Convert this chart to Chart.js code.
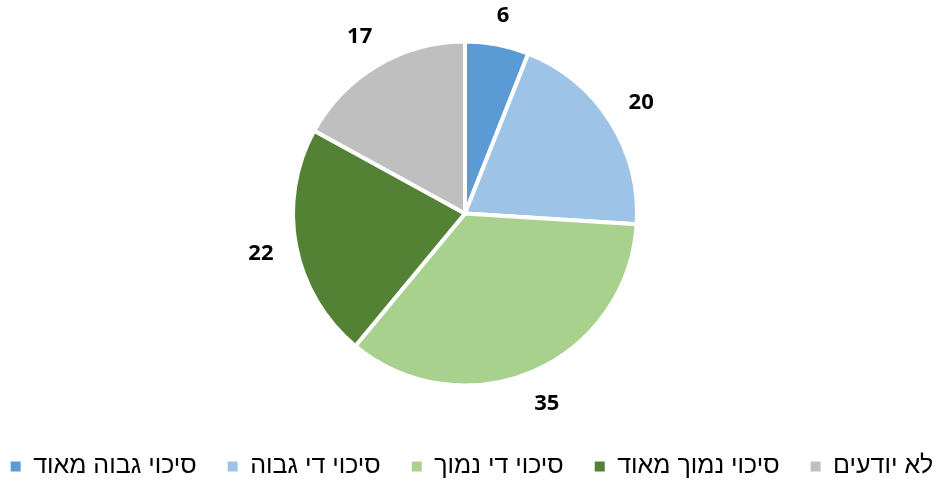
<!DOCTYPE html>
<html lang="he">
<head>
<meta charset="utf-8">
<script src="https://cdn.jsdelivr.net/npm/chart.js@4/dist/chart.umd.min.js"></script>
<style>
  html, body { margin: 0; padding: 0; background: #ffffff; }
  #wrap { width: 936px; height: 482px; }
</style>
</head>
<body>
<div id="wrap"><canvas id="c" width="936" height="482"></canvas></div>
<script>
const categories = ["סיכוי גבוה מאוד", "סיכוי די גבוה", "סיכוי די נמוך", "סיכוי נמוך מאוד", "לא יודעים"];
const values = [6, 20, 35, 22, 17];
const colors = ["#5B9BD5", "#9DC3E6", "#A9D18E", "#548235", "#BFBFBF"];

const outsideLabels = {
  id: 'outsideLabels',
  afterDatasetsDraw(chart) {
    const ctx = chart.ctx;
    const meta = chart.getDatasetMeta(0);
    ctx.save();
    ctx.font = 'bold 22px "Open Sans", Lato, sans-serif';
    ctx.fillStyle = '#000000';
    ctx.textAlign = 'center';
    ctx.textBaseline = 'middle';
    meta.data.forEach((arc, i) => {
      const p = arc.getProps(['x', 'y', 'startAngle', 'endAngle', 'outerRadius'], true);
      const mid = (p.startAngle + p.endAngle) / 2;
      const txt = String(chart.data.datasets[0].data[i]);
      const w = ctx.measureText(txt).width;
      const h = 15;
      const c = Math.cos(mid), s = Math.sin(mid);
      const extent = Math.abs(c) * w / 2 + Math.abs(s) * h / 2;
      const r = p.outerRadius + 22 + extent;
      ctx.fillText(txt, p.x + c * r, p.y + s * r + 1);
    });
    ctx.restore();
  }
};

const shiftPie = {
  id: 'shiftPie',
  afterLayout(chart) {
    chart.chartArea.left -= 6;
    chart.chartArea.width = chart.chartArea.right - chart.chartArea.left;
  }
};

new Chart(document.getElementById('c'), {
  type: 'pie',
  data: {
    labels: categories,
    datasets: [{
      data: values,
      backgroundColor: colors,
      borderColor: '#ffffff',
      borderWidth: 4,
      radius: 172
    }]
  },
  options: {
    responsive: false,
    animation: false,
    layout: { padding: { top: 4, bottom: -7, left: -32, right: -40 } },
    plugins: {
      legend: {
        position: 'bottom',
        labels: {
          boxWidth: 10,
          boxHeight: 10,
          padding: 31,
          color: '#000000',
          font: { family: '"Liberation Sans", Arial, sans-serif', size: 25, lineHeight: 1 },
          generateLabels(chart) {
            return Chart.overrides.pie.plugins.legend.labels.generateLabels(chart)
              .map(item => Object.assign(item, { lineWidth: 0, strokeStyle: item.fillStyle }));
          }
        }
      },
      tooltip: { enabled: false }
    }
  },
  plugins: [shiftPie, outsideLabels]
});
</script>
</body>
</html>
